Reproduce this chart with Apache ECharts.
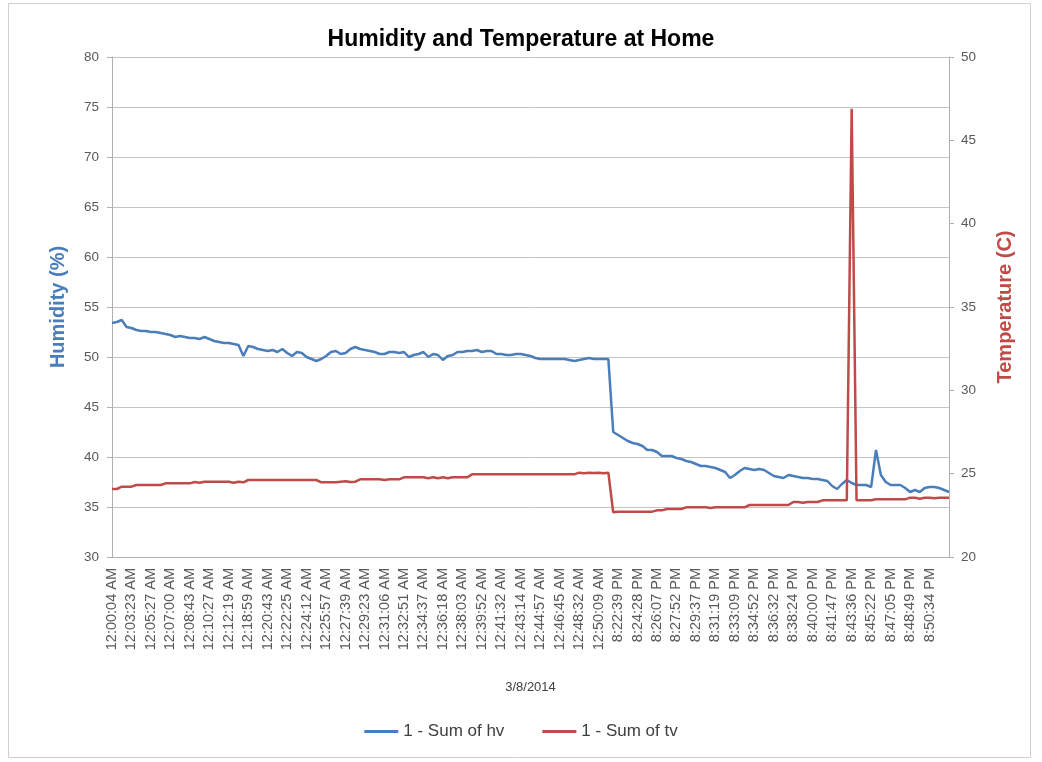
<!DOCTYPE html>
<html>
<head>
<meta charset="utf-8">
<script src="https://cdn.jsdelivr.net/npm/echarts@6/dist/echarts.min.js"></script>
<style>
html,body{margin:0;padding:0;background:#fff;}
#chart{width:1042px;height:762px;}
</style>
</head>
<body>
<div id="chart"></div>
<script>
const timeLabels = [
  '12:00:04 AM','12:03:23 AM','12:05:27 AM','12:07:00 AM','12:08:43 AM','12:10:27 AM','12:12:19 AM',
  '12:18:59 AM','12:20:43 AM','12:22:25 AM','12:24:12 AM','12:25:57 AM','12:27:39 AM','12:29:23 AM',
  '12:31:06 AM','12:32:51 AM','12:34:37 AM','12:36:18 AM','12:38:03 AM','12:39:52 AM','12:41:32 AM',
  '12:43:14 AM','12:44:57 AM','12:46:45 AM','12:48:32 AM','12:50:09 AM',
  '8:22:39 PM','8:24:28 PM','8:26:07 PM','8:27:52 PM','8:29:37 PM','8:31:19 PM','8:33:09 PM',
  '8:34:52 PM','8:36:32 PM','8:38:24 PM','8:40:00 PM','8:41:47 PM','8:43:36 PM','8:45:22 PM',
  '8:47:05 PM','8:48:49 PM','8:50:34 PM'
];
const POINTS_PER_LABEL = 4;

// 1 - Sum of hv (Humidity %)
const humidity = [
  53.4,53.5,53.7,53.0,52.9,52.7,52.6,52.6,52.5,52.5,
  52.4,52.3,52.2,52.0,52.1,52.0,51.9,51.9,51.8,52.0,
  51.8,51.6,51.5,51.4,51.4,51.3,51.2,50.1,51.1,51.0,
  50.8,50.7,50.6,50.7,50.5,50.8,50.4,50.1,50.5,50.4,
  50.0,49.8,49.6,49.8,50.1,50.5,50.6,50.3,50.4,50.8,
  51.0,50.8,50.7,50.6,50.5,50.3,50.3,50.5,50.5,50.4,
  50.5,50.0,50.2,50.3,50.5,50.0,50.3,50.2,49.7,50.1,
  50.2,50.5,50.5,50.6,50.6,50.7,50.5,50.6,50.6,50.3,
  50.3,50.2,50.2,50.3,50.3,50.2,50.1,49.9,49.8,49.8,
  49.8,49.8,49.8,49.8,49.7,49.6,49.7,49.8,49.9,49.8,
  49.8,49.8,49.8,42.5,42.2,41.9,41.6,41.4,41.3,41.1,
  40.7,40.7,40.5,40.1,40.1,40.1,39.9,39.8,39.6,39.5,
  39.3,39.1,39.1,39.0,38.9,38.7,38.5,37.9,38.2,38.6,
  38.9,38.8,38.7,38.8,38.7,38.4,38.1,38.0,37.9,38.2,
  38.1,38.0,37.9,37.9,37.8,37.8,37.7,37.6,37.1,36.8,
  37.3,37.7,37.4,37.2,37.2,37.2,37.0,40.7,38.2,37.5,
  37.2,37.2,37.2,36.9,36.5,36.7,36.5,36.9,37.0,37.0,
  36.9,36.7,36.5
];

// 1 - Sum of tv (Temperature C)
const temperature = [
  24.08,24.08,24.22,24.22,24.22,24.32,24.32,24.32,24.32,24.32,
  24.32,24.42,24.42,24.42,24.42,24.42,24.42,24.50,24.45,24.52,
  24.52,24.52,24.52,24.52,24.52,24.46,24.52,24.48,24.62,24.62,
  24.62,24.62,24.62,24.62,24.62,24.62,24.62,24.62,24.62,24.62,
  24.62,24.62,24.62,24.48,24.48,24.48,24.48,24.52,24.55,24.50,
  24.52,24.66,24.66,24.66,24.66,24.66,24.62,24.66,24.66,24.66,
  24.78,24.78,24.78,24.78,24.78,24.72,24.78,24.72,24.78,24.72,
  24.78,24.78,24.78,24.78,24.96,24.96,24.96,24.96,24.96,24.96,
  24.96,24.96,24.96,24.96,24.96,24.96,24.96,24.96,24.96,24.96,
  24.96,24.96,24.96,24.96,24.96,24.96,25.06,25.02,25.06,25.04,
  25.06,25.02,25.06,22.68,22.72,22.72,22.72,22.72,22.72,22.72,
  22.72,22.72,22.80,22.80,22.88,22.88,22.88,22.88,22.98,22.98,
  22.98,22.98,22.98,22.94,22.98,22.98,22.98,22.98,22.98,22.98,
  22.98,23.12,23.12,23.12,23.12,23.12,23.12,23.12,23.12,23.12,
  23.30,23.30,23.26,23.30,23.30,23.30,23.40,23.40,23.40,23.40,
  23.40,23.40,46.90,23.40,23.40,23.40,23.40,23.46,23.46,23.46,
  23.46,23.46,23.46,23.46,23.56,23.56,23.50,23.56,23.56,23.52,
  23.56,23.56,23.56
];

const categories = humidity.map((_, i) => {
  const j = Math.floor(i / POINTS_PER_LABEL), k = i % POINTS_PER_LABEL;
  if (k === 0 && j < timeLabels.length) return timeLabels[j];
  const base = timeLabels[Math.min(j, timeLabels.length - 1)];
  return base + ' #' + i;
});

const FONT = 'Liberation Sans';
const chart = echarts.init(document.getElementById('chart'), null, {renderer: 'canvas'});
chart.setOption({
  backgroundColor: '#ffffff',
  animation: false,
  textStyle: {fontFamily: FONT},
  graphic: [{
    type: 'rect', shape: {x: 8.5, y: 3.5, width: 1022, height: 754},
    style: {fill: 'none', stroke: '#d0d0d0', lineWidth: 1}, silent: true, z: -10
  }],
  title: {
    text: 'Humidity and Temperature at Home',
    left: 'center', top: 23,
    textStyle: {fontFamily: FONT, fontSize: 23, fontWeight: 'bold', color: '#000000'}
  },
  legend: {
    bottom: 17, left: 'center',
    itemWidth: 34, itemHeight: 3, itemGap: 38,
    icon: 'rect',
    textStyle: {fontFamily: FONT, fontSize: 17, color: '#404040'},
    data: ['1 - Sum of hv', '1 - Sum of tv']
  },
  grid: {left: 112, right: 93, top: 57, bottom: 205, containLabel: false},
  xAxis: {
    type: 'category',
    data: categories,
    boundaryGap: false,
    name: '3/8/2014',
    nameLocation: 'middle',
    nameGap: 124,
    nameTextStyle: {fontFamily: FONT, fontSize: 13, color: '#404040'},
    axisLine: {show: true, lineStyle: {color: '#b0b0b0', width: 1}},
    axisTick: {show: false},
    axisLabel: {
      rotate: 90, fontSize: 14.5, color: '#595959', margin: 11, fontFamily: FONT,
      interval: (index) => index % POINTS_PER_LABEL === 0 && index / POINTS_PER_LABEL < timeLabels.length,
      formatter: (v) => v.indexOf(' #') >= 0 ? '' : v
    },
    splitLine: {show: false}
  },
  yAxis: [{
    type: 'value', min: 30, max: 80, interval: 5, position: 'left',
    name: 'Humidity (%)', nameLocation: 'middle', nameGap: 44, nameRotate: 90,
    nameTextStyle: {fontFamily: FONT, fontSize: 20, fontWeight: 'bold', color: '#4a7ebb'},
    axisLine: {show: true, lineStyle: {color: '#b0b0b0'}},
    axisTick: {show: true, length: 5, lineStyle: {color: '#b0b0b0'}},
    axisLabel: {fontSize: 13.5, color: '#595959', margin: 13, fontFamily: FONT},
    splitLine: {show: true, lineStyle: {color: '#c4c4c4', width: 1}}
  }, {
    type: 'value', min: 20, max: 50, interval: 5, position: 'right',
    name: 'Temperature (C)', nameLocation: 'middle', nameGap: 46, nameRotate: 90,
    nameTextStyle: {fontFamily: FONT, fontSize: 20, fontWeight: 'bold', color: '#be4b48'},
    axisLine: {show: true, lineStyle: {color: '#b0b0b0'}},
    axisTick: {show: true, length: 5, lineStyle: {color: '#b0b0b0'}},
    axisLabel: {fontSize: 13.5, color: '#595959', margin: 12, fontFamily: FONT},
    splitLine: {show: false}
  }],
  series: [{
    name: '1 - Sum of hv', type: 'line', yAxisIndex: 0,
    data: humidity, symbol: 'none', showSymbol: false,
    lineStyle: {color: '#4a7ebb', width: 2.5},
    itemStyle: {color: '#4a7ebb'}
  }, {
    name: '1 - Sum of tv', type: 'line', yAxisIndex: 1,
    data: temperature, symbol: 'none', showSymbol: false,
    lineStyle: {color: '#be4b48', width: 2.5},
    itemStyle: {color: '#be4b48'}
  }]
});
</script>
</body>
</html>
